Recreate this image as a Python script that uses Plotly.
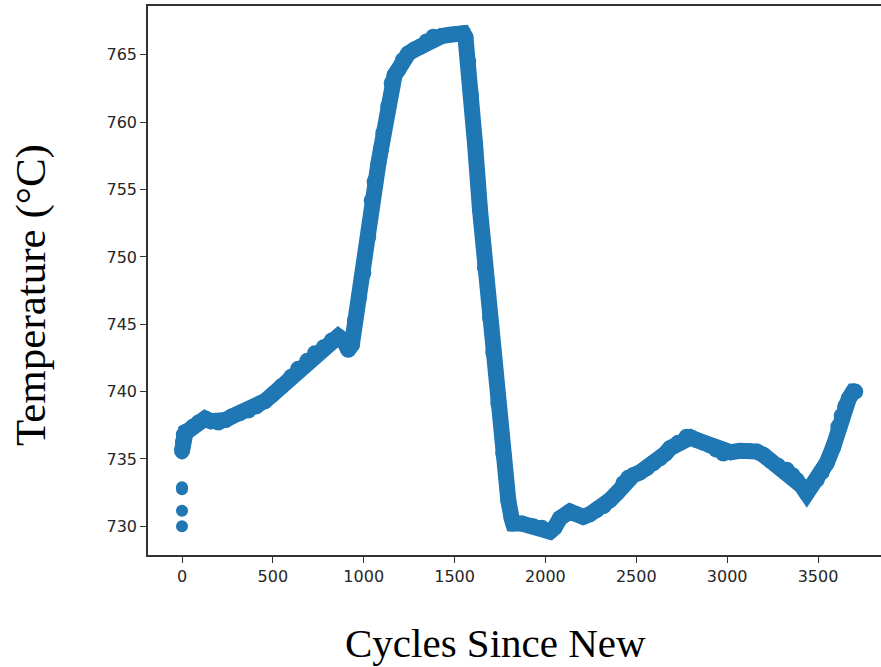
import plotly.graph_objects as go

# Main band (cycles since new, temperature in °C)
cycles = [0, 5, 10, 20, 35, 60, 90, 127, 160, 200, 240, 273, 320, 365, 410, 457, 500,
          548, 600, 640, 690, 732, 780, 824, 860, 890, 915, 935, 952, 975, 998, 1025,
          1044, 1060, 1081, 1095, 1108, 1135, 1154, 1170, 1190, 1215, 1245, 1280, 1310,
          1345, 1383, 1430, 1475, 1510, 1548, 1560, 1575, 1590, 1612, 1640, 1667, 1695,
          1713, 1741, 1768, 1796, 1814, 1823, 1870, 1933, 1980, 2025, 2050, 2080, 2135,
          2170, 2208, 2245, 2282, 2320, 2355, 2395, 2429, 2455, 2484, 2520, 2557, 2595,
          2631, 2660, 2686, 2730, 2777, 2800, 2832, 2870, 2906, 2940, 2979, 3020, 3071,
          3120, 3163, 3200, 3236, 3280, 3328, 3360, 3383, 3410, 3438, 3465, 3493, 3520,
          3548, 3584, 3612, 3630, 3649, 3670, 3694, 3705]
temps = [735.6, 736.3, 736.8, 737.0, 737.1, 737.4, 737.7, 738.0, 737.8, 737.7, 737.9,
         738.15, 738.4, 738.6, 738.9, 739.3, 739.8, 740.4, 741.1, 741.7, 742.3, 742.85,
         743.3, 743.8, 744.1, 743.8, 743.1, 743.5, 745.3, 747.0, 748.8, 751.5, 754.2,
         755.6, 756.95, 758.0, 759.2, 761.2, 762.9, 763.5, 763.9, 764.6, 765.1, 765.4,
         765.6, 766.0, 766.35, 766.4, 766.5, 766.55, 766.6, 766.3, 764.5, 762.0, 758.5,
         753.5, 749.2, 745.5, 742.9, 739.1, 735.4, 731.9, 730.6, 730.2, 730.2, 730.0,
         729.9, 729.6, 729.9, 730.6, 731.1, 730.9, 730.7, 730.9, 731.2, 731.5, 731.95,
         732.5, 733.2, 733.6, 733.8, 734.0, 734.3, 734.7, 735.05, 735.4, 735.8, 736.2,
         736.65, 736.6, 736.4, 736.2, 736.0, 735.7, 735.4, 735.5, 735.6, 735.6, 735.55,
         735.3, 734.9, 734.5, 734.2, 733.8, 733.45, 733.0, 732.45, 733.0, 733.45, 734.0,
         734.7, 735.9, 737.4, 738.2, 738.9, 739.5, 740.0, 740.0]

# Isolated early readings at cycle 0
start_cycles = [0, 0, 0, 0, 0]
start_temps = [730.0, 731.15, 732.75, 732.9, 735.4]

x_ticks = [0, 500, 1000, 1500, 2000, 2500, 3000, 3500]
y_ticks = [730, 735, 740, 745, 750, 755, 760, 765]

BLUE = "#1f77b4"

fig = go.Figure()
fig.add_trace(go.Scatter(
    x=cycles, y=temps, mode="lines+markers",
    line=dict(color=BLUE, width=16),
    marker=dict(color=BLUE, size=16),
    hoverinfo="skip", showlegend=False))
fig.add_trace(go.Scatter(
    x=start_cycles, y=start_temps, mode="markers",
    marker=dict(color=BLUE, size=12),
    hoverinfo="skip", showlegend=False))

tickfont = dict(family="DejaVu Sans", size=16, color="#262626")
fig.update_layout(
    width=881, height=667,
    margin=dict(l=148, r=0, t=6, b=112),
    paper_bgcolor="white", plot_bgcolor="white",
    xaxis=dict(range=[-187.1, 3846.7], tickvals=x_ticks, showgrid=False, zeroline=False,
               showline=True, linecolor="#333333", linewidth=1.5, mirror=True,
               ticks="outside", ticklen=6, tickwidth=1.3, tickcolor="#333333",
               tickfont=tickfont),
    yaxis=dict(range=[727.87, 768.63], tickvals=y_ticks, showgrid=False, zeroline=False,
               showline=True, linecolor="#333333", linewidth=1.5, mirror=False,
               ticks="outside", ticklen=6, tickwidth=1.3, tickcolor="#333333",
               tickfont=tickfont),
    annotations=[
        dict(text="Cycles Since New", xref="paper", yref="paper",
             x=(495 - 148) / 733, y=(555 - 643) / 549, xanchor="center", yanchor="middle",
             showarrow=False, font=dict(family="Liberation Serif", size=41, color="black")),
        dict(text="Temperature (°C)", xref="paper", yref="paper", textangle=-90,
             x=(31 - 148) / 733, y=(555 - 295) / 549, xanchor="center", yanchor="middle",
             showarrow=False, font=dict(family="Liberation Serif", size=43, color="black")),
    ],
)

fig.write_html("out.html")
